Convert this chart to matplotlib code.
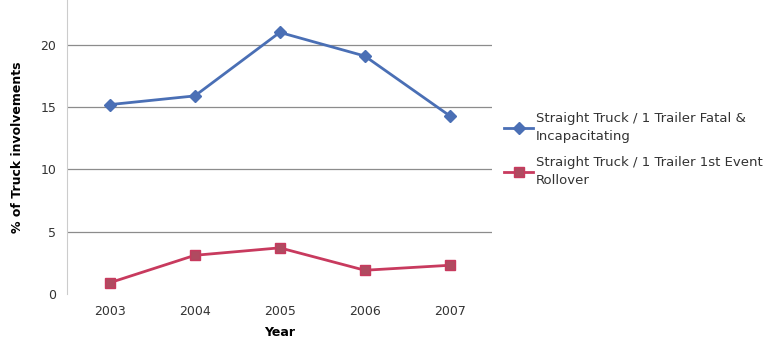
import matplotlib.pyplot as plt

years = ['2003', '2004', '2005', '2006', '2007']
fatal = [15.2, 15.9, 21.0, 19.1, 14.3]
rollover = [0.9, 3.1, 3.7, 1.9, 2.3]
yticks = [0, 5, 10, 15, 20]

fig = plt.figure(figsize=(7.74, 3.52), dpi=100)
ax = fig.add_axes([0.087, 0.165, 0.549, 0.835])

x = range(len(years))
ax.plot(x, fatal, color='#4a6fb5', lw=2, marker='D', ms=6,
        label='Straight Truck / 1 Trailer Fatal &\nIncapacitating')
ax.plot(x, rollover, color='#c83a5e', lw=2, marker='s', ms=7,
        mfc='#b04a60', label='Straight Truck / 1 Trailer 1st Event\nRollover')

ax.set_xlim(-0.5, 4.5)
ax.set_ylim(0, 23.6)
ax.set_xticks(list(x))
ax.set_xticklabels(years)
ax.set_yticks(yticks)
ax.tick_params(length=0, labelsize=9, colors='#333333', pad=8)
for y in yticks[1:]:
    ax.axhline(y, color='#8c8c8c', lw=0.9, zorder=0)

for s in ['top', 'right', 'bottom']:
    ax.spines[s].set_visible(False)
ax.spines['left'].set_color('#cccccc')

ax.set_xlabel('Year', fontsize=9, fontweight='bold', labelpad=6)
ax.set_ylabel('% of Truck involvements', fontsize=9, fontweight='bold', labelpad=12)

leg = ax.legend(loc='center left', bbox_to_anchor=(1.0, 0.49), frameon=False,
                fontsize=9.5, handlelength=2.2, handletextpad=0.2, labelspacing=1.0)
for t in leg.get_texts():
    t.set_linespacing(1.5)
    t.set_color('#333333')

fig.savefig('out.png', dpi=100)
